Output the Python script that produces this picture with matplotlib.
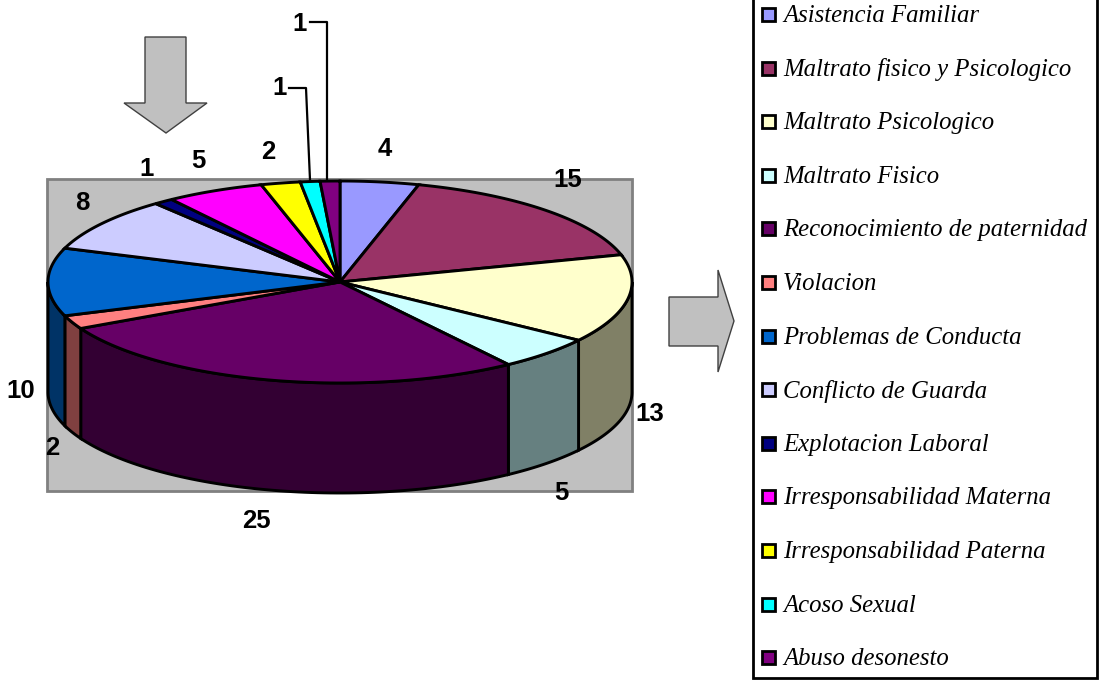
import matplotlib
matplotlib.use('Agg')
import matplotlib.pyplot as plt
from matplotlib.patches import Polygon, Rectangle
import numpy as np

categories = ['Asistencia Familiar', 'Maltrato fisico y Psicologico', 'Maltrato Psicologico',
              'Maltrato Fisico', 'Reconocimiento de paternidad', 'Violacion',
              'Problemas de Conducta', 'Conflicto de Guarda', 'Explotacion Laboral',
              'Irresponsabilidad Materna', 'Irresponsabilidad Paterna', 'Acoso Sexual',
              'Abuso desonesto']
values = [4, 15, 13, 5, 25, 2, 10, 8, 1, 5, 2, 1, 1]
colors = ['#9999FF', '#993366', '#FFFFCC', '#CCFFFF', '#660066', '#FF8080', '#0066CC',
          '#CCCCFF', '#000080', '#FF00FF', '#FFFF00', '#00FFFF', '#800080']
side_colors = ['#4D4D80', '#4D1A33', '#808066', '#668080', '#330033', '#804040', '#003366',
               '#666680', '#000040', '#800080', '#808000', '#008080', '#400040']
label_pos = [(385, 149), (568, 180), (650, 414), (561, 493), (256, 521), (52, 448), (21, 391),
             (82, 203), (147, 169), (198, 161), (268, 152), (280, 88), (300, 24)]

cx, cy, rx, ry, depth = 340, 282, 292, 101, 110

fig = plt.figure(figsize=(10.99, 6.8), dpi=100)
ax = fig.add_axes([0, 0, 1, 1])
ax.set_xlim(0, 1099)
ax.set_ylim(680, 0)
ax.axis('off')

ax.add_patch(Rectangle((47, 179), 585, 312, fc='#C0C0C0', ec='#808080', lw=2, zorder=1))


def rim(a0, a1):
    t = np.radians(np.linspace(a0, a1, 80))
    return np.column_stack([cx + rx * np.sin(t), cy - ry * np.cos(t)])


edges = np.cumsum([0] + values) / sum(values) * 360
for i in range(len(values)):
    a0, a1 = edges[i], edges[i + 1]
    # side wall only shows on the front half
    s0, s1 = max(a0, 90), min(a1, 270)
    if s0 < s1:
        top = rim(s0, s1)
        bottom = top[::-1] + [0, depth]
        ax.add_patch(Polygon(np.vstack([top, bottom]), closed=True, fc=side_colors[i],
                             ec='black', lw=2.1, zorder=2))
    pts = np.vstack([[cx, cy], rim(a0, a1)])
    ax.add_patch(Polygon(pts, closed=True, fc=colors[i], ec='black', lw=2.1, zorder=3))

for v, (x, y) in zip(values, label_pos):
    ax.text(x, y, str(v), ha='center', va='center', fontsize=18.5, fontweight='bold',
            family='Liberation Sans', color='black', zorder=5)

# leader lines of the two small slices
ax.plot([289, 306, 310], [88, 88, 180], color='black', lw=1.6, zorder=4)
ax.plot([310, 327, 327], [22, 22, 180], color='black', lw=1.6, zorder=4)

# block arrows
ax.add_patch(Polygon([(145, 37), (186, 37), (186, 103), (207, 103), (166, 133), (124, 103), (145, 103)],
                     closed=True, fc='#C0C0C0', ec='#404040', lw=1, zorder=2))
ax.add_patch(Polygon([(669, 297), (718, 297), (718, 270), (734, 321), (718, 372), (718, 346), (669, 346)],
                     closed=True, fc='#C0C0C0', ec='#404040', lw=1, zorder=2))

# legend box, drawn by hand because of the wide row spacing
ax.add_patch(Rectangle((753, -10), 344, 688, fc='white', ec='black', lw=2, zorder=2))
for i, name in enumerate(categories):
    y = 14 + i * 53.6
    ax.add_patch(Rectangle((762, y - 6), 13, 13, fc=colors[i], ec='black', lw=2, zorder=3))
    ax.text(783, y + 2, name, ha='left', va='center', fontsize=17.8, style='italic',
            family='Liberation Serif', color='black', zorder=3)

fig.savefig('out.png', dpi=100)
